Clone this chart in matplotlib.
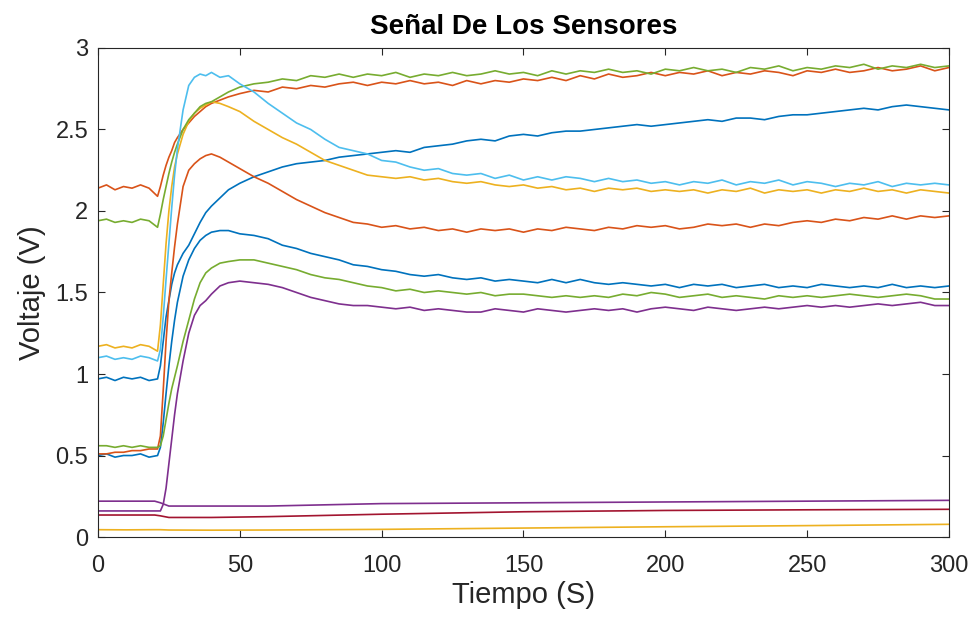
import matplotlib
matplotlib.use("Agg")
import matplotlib.pyplot as plt

plt.rcParams['font.family'] = ['Liberation Sans', 'DejaVu Sans']

# time axis (s): fine steps around the jump, then every 5 s
t = [0, 3, 6, 9, 12, 15, 18, 21, 22, 23, 24, 25, 26, 27, 28, 30, 32, 34, 36, 38, 40, 43, 46] + list(range(50, 301, 5))
# sparse time axis for the three flat bottom signals
t_low = [0, 10, 20, 22, 25, 40, 60, 100, 150, 200, 250, 300]

# voltages (V)
blue_a = [0.97, 0.98, 0.96, 0.98, 0.97, 0.98, 0.96, 0.97, 1.05, 1.20, 1.35, 1.45, 1.55, 1.62, 1.67, 1.74, 1.79, 1.86, 1.93, 1.99, 2.03, 2.08, 2.13,
          2.17, 2.21, 2.24, 2.27, 2.29, 2.30, 2.31, 2.33, 2.34, 2.35, 2.36, 2.37, 2.36, 2.39, 2.40, 2.41, 2.43, 2.44, 2.43, 2.46,
          2.47, 2.46, 2.48, 2.49, 2.49, 2.50, 2.51, 2.52, 2.53, 2.52, 2.53, 2.54, 2.55, 2.56, 2.55, 2.57, 2.57, 2.56, 2.58, 2.59,
          2.59, 2.60, 2.61, 2.62, 2.63, 2.62, 2.64, 2.65, 2.64, 2.63, 2.62]
orange_a = [2.14, 2.16, 2.13, 2.15, 2.14, 2.16, 2.14, 2.09, 2.15, 2.22, 2.28, 2.33, 2.37, 2.42, 2.45, 2.50, 2.54, 2.58, 2.61, 2.64, 2.66, 2.68, 2.70,
            2.72, 2.74, 2.73, 2.76, 2.75, 2.77, 2.76, 2.78, 2.79, 2.77, 2.79, 2.78, 2.80, 2.78, 2.79, 2.77, 2.80, 2.78, 2.80, 2.79,
            2.81, 2.80, 2.82, 2.80, 2.83, 2.81, 2.84, 2.82, 2.83, 2.85, 2.83, 2.85, 2.84, 2.86, 2.83, 2.85, 2.84, 2.86, 2.85, 2.83,
            2.86, 2.85, 2.87, 2.85, 2.86, 2.88, 2.86, 2.87, 2.89, 2.86, 2.88]
yellow_a = [1.17, 1.18, 1.16, 1.17, 1.16, 1.18, 1.17, 1.14, 1.30, 1.55, 1.80, 2.00, 2.15, 2.27, 2.35, 2.47, 2.55, 2.60, 2.63, 2.65, 2.67, 2.66, 2.64,
            2.61, 2.55, 2.50, 2.45, 2.41, 2.36, 2.31, 2.28, 2.25, 2.22, 2.21, 2.20, 2.21, 2.19, 2.20, 2.18, 2.17, 2.18, 2.16, 2.15,
            2.16, 2.14, 2.15, 2.13, 2.14, 2.12, 2.14, 2.13, 2.14, 2.12, 2.13, 2.12, 2.13, 2.11, 2.13, 2.12, 2.14, 2.11, 2.13, 2.12,
            2.13, 2.11, 2.13, 2.12, 2.14, 2.12, 2.13, 2.11, 2.13, 2.12, 2.11]
purple_flat = [0.22, 0.22, 0.22, 0.21, 0.19, 0.19, 0.19, 0.205, 0.21, 0.215, 0.22, 0.225]
green_a = [1.94, 1.95, 1.93, 1.94, 1.93, 1.95, 1.94, 1.90, 1.98, 2.07, 2.15, 2.23, 2.30, 2.36, 2.41, 2.50, 2.56, 2.60, 2.64, 2.66, 2.67, 2.70, 2.73,
           2.76, 2.78, 2.79, 2.81, 2.80, 2.83, 2.82, 2.84, 2.82, 2.84, 2.83, 2.85, 2.82, 2.84, 2.83, 2.85, 2.83, 2.84, 2.86, 2.84,
           2.85, 2.83, 2.86, 2.84, 2.86, 2.85, 2.87, 2.85, 2.86, 2.84, 2.87, 2.86, 2.88, 2.86, 2.87, 2.85, 2.88, 2.87, 2.89, 2.86,
           2.88, 2.87, 2.89, 2.88, 2.90, 2.87, 2.89, 2.88, 2.90, 2.88, 2.89]
lightblue = [1.10, 1.11, 1.09, 1.10, 1.09, 1.11, 1.10, 1.08, 1.15, 1.35, 1.58, 1.80, 2.02, 2.22, 2.38, 2.62, 2.77, 2.82, 2.84, 2.83, 2.85, 2.82, 2.83,
             2.78, 2.73, 2.66, 2.60, 2.54, 2.50, 2.44, 2.39, 2.37, 2.35, 2.31, 2.30, 2.27, 2.25, 2.26, 2.23, 2.22, 2.23, 2.20, 2.22,
             2.19, 2.21, 2.19, 2.21, 2.20, 2.18, 2.20, 2.18, 2.19, 2.17, 2.18, 2.16, 2.18, 2.17, 2.19, 2.16, 2.18, 2.17, 2.19, 2.16,
             2.18, 2.17, 2.15, 2.17, 2.16, 2.18, 2.15, 2.17, 2.16, 2.17, 2.16]
darkred = [0.135, 0.135, 0.135, 0.13, 0.12, 0.12, 0.125, 0.14, 0.155, 0.163, 0.167, 0.17]
blue_b = [0.50, 0.51, 0.49, 0.50, 0.50, 0.51, 0.49, 0.50, 0.55, 0.70, 0.88, 1.05, 1.20, 1.33, 1.44, 1.60, 1.70, 1.77, 1.82, 1.85, 1.87, 1.88, 1.88,
          1.86, 1.85, 1.83, 1.79, 1.77, 1.74, 1.72, 1.70, 1.67, 1.66, 1.64, 1.63, 1.61, 1.60, 1.61, 1.59, 1.58, 1.59, 1.57, 1.58,
          1.57, 1.56, 1.58, 1.56, 1.58, 1.56, 1.55, 1.56, 1.55, 1.54, 1.55, 1.53, 1.55, 1.54, 1.55, 1.53, 1.54, 1.55, 1.53, 1.54,
          1.53, 1.55, 1.54, 1.53, 1.54, 1.53, 1.55, 1.53, 1.54, 1.53, 1.54]
orange_b = [0.51, 0.51, 0.52, 0.52, 0.53, 0.53, 0.54, 0.54, 0.62, 0.90, 1.20, 1.45, 1.62, 1.78, 1.92, 2.15, 2.25, 2.29, 2.32, 2.34, 2.35, 2.33, 2.30,
            2.26, 2.21, 2.17, 2.12, 2.07, 2.03, 1.99, 1.96, 1.93, 1.92, 1.90, 1.91, 1.89, 1.90, 1.88, 1.89, 1.87, 1.89, 1.88, 1.89,
            1.87, 1.89, 1.88, 1.90, 1.89, 1.88, 1.90, 1.89, 1.91, 1.90, 1.91, 1.89, 1.90, 1.92, 1.91, 1.92, 1.90, 1.92, 1.91, 1.93,
            1.94, 1.93, 1.95, 1.94, 1.96, 1.95, 1.97, 1.95, 1.97, 1.96, 1.97]
yellow_low = [0.045, 0.044, 0.045, 0.045, 0.043, 0.042, 0.043, 0.047, 0.055, 0.063, 0.07, 0.078]
purple_b = [0.16, 0.16, 0.16, 0.16, 0.16, 0.16, 0.16, 0.16, 0.16, 0.20, 0.30, 0.45, 0.60, 0.75, 0.88, 1.08, 1.25, 1.36, 1.42, 1.45, 1.49, 1.54, 1.56,
            1.57, 1.56, 1.55, 1.53, 1.50, 1.47, 1.45, 1.43, 1.42, 1.42, 1.41, 1.40, 1.41, 1.39, 1.40, 1.39, 1.38, 1.38, 1.40, 1.39,
            1.38, 1.40, 1.39, 1.38, 1.39, 1.40, 1.39, 1.40, 1.38, 1.40, 1.41, 1.40, 1.39, 1.41, 1.40, 1.39, 1.40, 1.41, 1.40, 1.41,
            1.42, 1.41, 1.42, 1.41, 1.42, 1.43, 1.42, 1.43, 1.44, 1.42, 1.42]
green_b = [0.56, 0.56, 0.55, 0.56, 0.55, 0.56, 0.55, 0.55, 0.56, 0.62, 0.72, 0.82, 0.91, 0.98, 1.05, 1.20, 1.33, 1.46, 1.56, 1.62, 1.65, 1.68, 1.69,
           1.70, 1.70, 1.68, 1.66, 1.64, 1.61, 1.59, 1.58, 1.56, 1.54, 1.53, 1.51, 1.52, 1.50, 1.51, 1.50, 1.49, 1.50, 1.48, 1.49,
           1.49, 1.48, 1.47, 1.48, 1.47, 1.48, 1.47, 1.49, 1.48, 1.50, 1.49, 1.47, 1.48, 1.49, 1.47, 1.48, 1.47, 1.46, 1.48, 1.47,
           1.48, 1.47, 1.48, 1.49, 1.48, 1.47, 1.48, 1.49, 1.48, 1.46, 1.46]

# MATLAB default colour order
c_blue = (0, 0.447, 0.741)
c_orange = (0.85, 0.325, 0.098)
c_yellow = (0.929, 0.694, 0.125)
c_purple = (0.494, 0.184, 0.556)
c_green = (0.466, 0.674, 0.188)
c_lblue = (0.301, 0.745, 0.933)
c_red = (0.635, 0.078, 0.184)

series = [
    (t, blue_a, c_blue), (t, orange_a, c_orange), (t, yellow_a, c_yellow),
    (t_low, purple_flat, c_purple), (t, green_a, c_green), (t, lightblue, c_lblue),
    (t_low, darkred, c_red), (t, blue_b, c_blue), (t, orange_b, c_orange),
    (t_low, yellow_low, c_yellow), (t, purple_b, c_purple), (t, green_b, c_green),
]

fig = plt.figure(figsize=(9.72, 6.23), dpi=100)
ax = fig.add_axes([0.1008, 0.138, 0.8755, 0.785])

for x, y, c in series:
    ax.plot(x, y, color=c, lw=1.2)

ax.set_xlim(0, 300)
ax.set_ylim(0, 3)
ax.set_xticks([0, 50, 100, 150, 200, 250, 300])
ax.set_yticks([0, 0.5, 1, 1.5, 2, 2.5, 3])
ax.set_yticklabels(['0', '0.5', '1', '1.5', '2', '2.5', '3'])

dark = '#262626'
for s in ax.spines.values():
    s.set_color(dark)
    s.set_linewidth(0.8)
ax.tick_params(direction='in', length=5, width=0.8, colors=dark, labelsize=17,
               top=True, right=True)
ax.tick_params(axis='x', pad=13)
ax.tick_params(axis='y', pad=7)

ax.set_xlabel('Tiempo (S)', fontsize=21, color=dark, labelpad=3)
ax.set_ylabel('Voltaje (V)', fontsize=21, color=dark, labelpad=7)
ax.set_title('Señal De Los Sensores', fontsize=20, fontweight='bold', color='black', pad=10)

fig.savefig('out.png', dpi=100)
